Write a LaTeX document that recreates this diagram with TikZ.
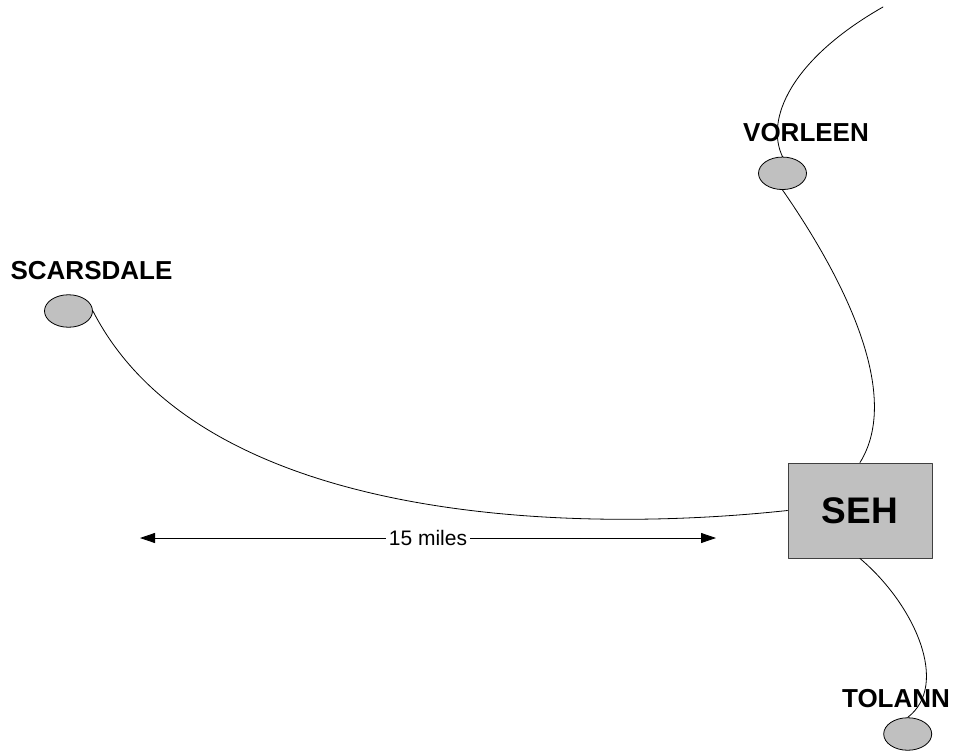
\documentclass[tikz,border=0pt]{standalone}
\usepackage{fontspec}
\setmainfont{Liberation Sans}
\usepackage{pgf,tikz}
\usetikzlibrary{arrows.meta}
\usetikzlibrary{shapes.geometric}
\definecolor{nodegray}{HTML}{C0C0C0}
\begin{document}
\begin{tikzpicture}[line cap=round,line join=round,>={Triangle[length=15pt,width=10pt]},x=1pt,y=-1pt,
  town/.style={ellipse,draw,fill=nodegray,line width=0.8pt,minimum width=48pt,minimum height=32.5pt,inner sep=0pt},
  townname/.style={inner sep=0pt,font=\fontsize{26}{30}\selectfont\bfseries},
  hub/.style={rectangle,draw=black!75,fill=nodegray,line width=1pt,minimum width=144pt,minimum height=95pt,font=\fontsize{37}{42}\selectfont\bfseries},
  road/.style={line width=0.8pt}]
\useasboundingbox (0,0) rectangle (956,752);
\node [hub] (seh) at (860,510.5) {SEH};
\node [town] (sc) at (68.5,311) {};
\node [town] (vo) at (782.5,173.3) {};
\node [town] (to) at (907.7,734) {};
\node [townname] (scname) at (91.5,270.5) {SCARSDALE};
\node [townname] (voname) at (806,132.5) {VORLEEN};
\node [townname] (toname) at (896,698.5) {TOLANN};
\coordinate (vtop) at (883,7);
\coordinate (ml) at (140,538);
\coordinate (mr) at (716,538);
\draw [road] (sc.east) .. controls (200,520) and (560,535) .. (seh.west);
\draw [road] (vo.south) .. controls (845,280) and (902,395) .. (seh.north);
\draw [road] (vtop) .. controls (790,60) and (765,120) .. (vo.north);
\draw [road] (seh.south) .. controls (915,605) and (950,685) .. (to.north);
\draw [<->,line width=0.8pt] (ml) -- node[fill=white,inner sep=2.5pt,font=\fontsize{21}{25}\selectfont] (dist) {15 miles} (mr);
\end{tikzpicture}
\end{document}
